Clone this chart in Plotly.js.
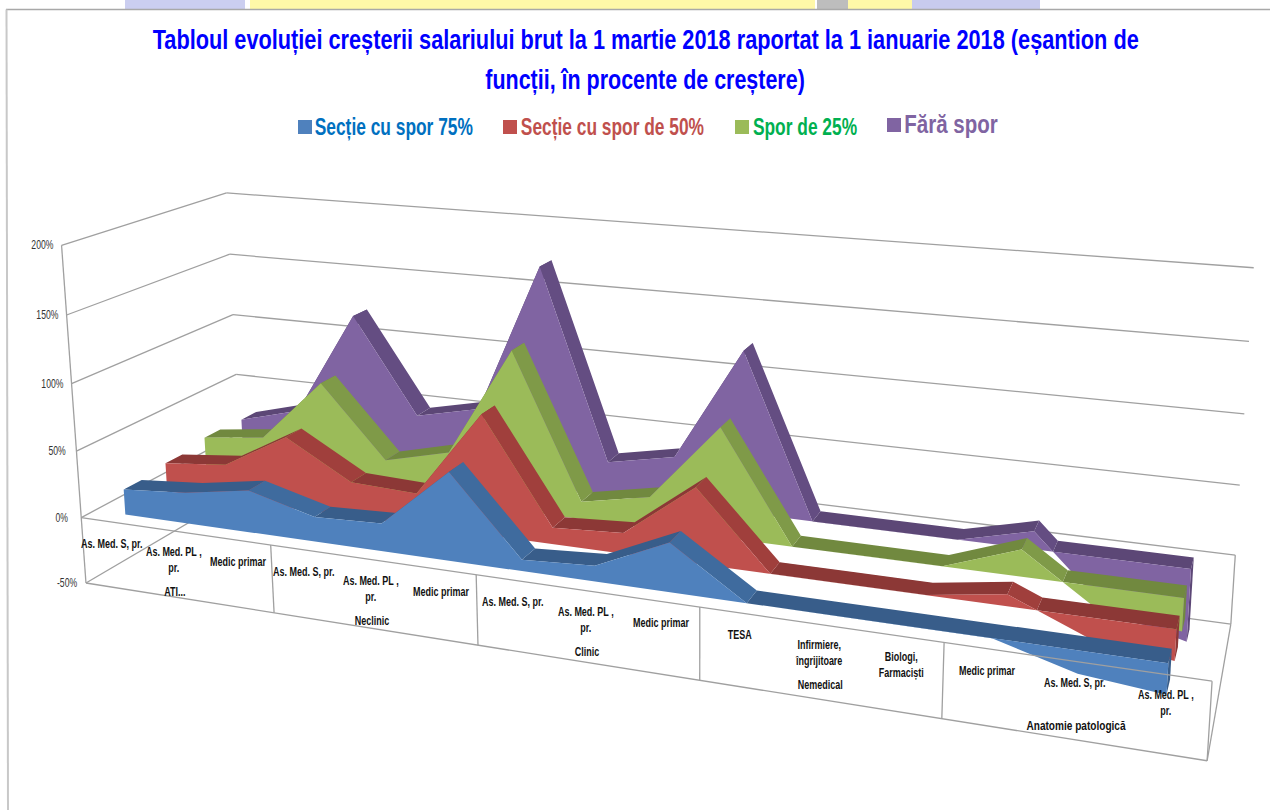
<!DOCTYPE html>
<html><head><meta charset="utf-8">
<script src="https://cdn.plot.ly/plotly-3.0.1.min.js"></script>
<style>html,body{margin:0;padding:0;background:#fff;overflow:hidden}#c{width:1270px;height:810px}</style>
</head><body><div id="c"></div>
<script>
// ---- data
const categories = ["As. Med. S, pr.","As. Med. PL ,<br>pr.","Medic primar","As. Med. S, pr.","As. Med. PL ,<br>pr.","Medic primar","As. Med. S, pr.","As. Med. PL ,<br>pr.","Medic primar","TESA","Infirmiere,<br>îngrijitoare","Biologi,<br>Farmaciști","Medic primar","As. Med. S, pr.","As. Med. PL ,<br>pr."];
const groups = ["ATI...","Neclinic","Clinic","Nemedical","Anatomie patologică"];
const seriesNames = ["Secție cu spor 75%","Secție cu spor de 50%","Spor de 25%","Fără spor"];
const spor75 = [19,23,31,18,20,63,8,11,34,0,0,0,0,-15,-20];
const spor50 = [22,27,54,26,24,88,12,15,54,0,0,0,8,-14,-21];
const spor25 = [26,32,80,26,38,120,13,23,80,0,0,0,19,-17,-23];
const faraSpor = [25,38,119,45,56,170,26,36,121,0,0,0,13,-38,-52];
const valueTicks = [-50,0,50,100,150,200];

// ---- styles
const faceColors = ["#4F81BD","#C0504D","#9BBB59","#8064A2"];
const flatColors = ["#385D8A","#8C3836","#71893F","#5C4776"];
const slopeColors = ["#3F6B9E","#A03F3C","#7F9A48","#644D82"];
const textColors = ["#0070C0","#C0504D","#00B050","#8064A2"];
const GRID = "#A0A0A0";
const FONT = '"Liberation Sans",Arial,sans-serif';

// ---- view of the 3D box: (category fraction, depth fraction, value) -> page position
const viewCorners = [
 [0,0,200,63,245],[0,0,0,81,517],[0,0,-50,85,583],
 [0,1,200,225,193],[0,1,0,240,433],[0,1,-50,243,492],
 [1,1,200,1254,268],[1,1,0,1235,555],[1,1,-50,1231,623],
 [1,0,0,1212,682],[1,0,-50,1207,761]];
function solve(A,b){const n=b.length;A=A.map((r,i)=>r.concat(b[i]));
 for(let c=0;c<n;c++){let p=c;for(let r=c+1;r<n;r++)if(Math.abs(A[r][c])>Math.abs(A[p][c]))p=r;[A[c],A[p]]=[A[p],A[c]];
  for(let r=0;r<n;r++)if(r!==c){const f=A[r][c]/A[c][c];for(let k=c;k<=n;k++)A[r][k]-=f*A[c][k];}}
 return A.map((r,i)=>r[n]/r[i]);}
const M=(function(){const R=[],Y=[];
 viewCorners.forEach(([a,d,v,X,Ys])=>{const w=v/100;
  R.push([a,d,w,1,0,0,0,0,-X*a,-X*d,-X*w]);Y.push(X);
  R.push([0,0,0,0,a,d,w,1,-Ys*a,-Ys*d,-Ys*w]);Y.push(Ys);});
 const n=11,A=[],B=[];for(let i=0;i<n;i++){A.push(new Array(n).fill(0));B.push(0);
  for(let r=0;r<R.length;r++){B[i]+=R[r][i]*Y[r];for(let j=0;j<n;j++)A[i][j]+=R[r][i]*R[r][j];}}
 return solve(A,B);})();
function view(a,d,v){const w=v/100,h=M[8]*a+M[9]*d+M[10]*w+1;
 return [(M[0]*a+M[1]*d+M[2]*w+M[3])/h,(M[4]*a+M[5]*d+M[6]*w+M[7])/h];}
const N=categories.length;
const catFrac=i=>(i+0.5)/N;

const traces=[];
function poly(polys,color){const x=[],y=[];polys.forEach(p=>{p.forEach(q=>{x.push(q[0]);y.push(q[1]);});x.push(null);y.push(null);});
 traces.push({type:'scatter',mode:'lines',x,y,fill:'toself',fillcolor:color,line:{width:0,color},hoverinfo:'skip',showlegend:false});}
function lines(segs,w){const x=[],y=[];segs.forEach(s=>{x.push(s[0][0],s[1][0],null);y.push(s[0][1],s[1][1],null);});
 traces.push({type:'scatter',mode:'lines',x,y,line:{width:w||1.3,color:GRID},hoverinfo:'skip',showlegend:false});}

// walls and floor
const wallSegs=[];
valueTicks.forEach(v=>{wallSegs.push([view(0,0,v),view(0,1,v)]);wallSegs.push([view(0,1,v),view(1,1,v)]);});
wallSegs.push([view(0,0,200),view(0,0,-50)]);
wallSegs.push([view(1,1,0),view(1,1,-50)]);
wallSegs.push([view(1,1,-50),view(1,0,-50)]);
lines(wallSegs);

// series, back to front
const SLOT=0.25,THICK=0.105,Z0=(SLOT-0.095)/2;
[3,2,1,0].forEach(k=>{
 const vals=[spor75,spor50,spor25,faraSpor][k];
 const z0=Z0+k*SLOT,z1=z0+THICK;
 const prof=[];
 vals.forEach((v,i)=>{prof.push([i,v]);
  if(i<N-1&&v*vals[i+1]<0)prof.push([i+v/(v-vals[i+1]),0]);});
 const flat=[],slope=[];
 for(let s=0;s<prof.length-1;s++){
  const [i0,a]=prof[s],[i1,b]=prof[s+1],u0=Math.max(a,0),u1=Math.max(b,0);
  const q=[view((i0+.5)/N,z0,u0),view((i1+.5)/N,z0,u1),view((i1+.5)/N,z1,u1),view((i0+.5)/N,z1,u0)];
  (u0-u1>5?slope:flat).push(q);
 }
 const last=catFrac(N-1),vl=vals[N-1];
 poly([[view(last,z0,Math.max(vl,0)),view(last,z1,Math.max(vl,0)),view(last,z1,Math.min(vl,0)),view(last,z0,Math.min(vl,0))]],flatColors[k]);
 poly(flat,flatColors[k]);
 poly(slope,slopeColors[k]);
 const front=prof.map(([i,v])=>view((i+.5)/N,z0,v));
 for(let s=prof.length-1;s>=0;s--)front.push(view((prof[s][0]+.5)/N,z0,0));
 poly([front],faceColors[k]);
});

// front lines over the areas
const frontSegs=[[view(0,0,0),view(1,0,0)],[view(0,0,-50),view(1,0,-50)],[view(1,0,0),view(1,0,-50)]];
[3,6,9,12].forEach(i=>frontSegs.push([view(i/N,0,0),view(i/N,0,-50)]));
lines(frontSegs);

// text: the reference face is a narrow one, so each text gets a horizontal squeeze after drawing
const ann=[],squeeze=[];
function t(text,x,y,size,color,sq){ann.push({text,x,y,xref:'x',yref:'y',showarrow:false,xanchor:'center',yanchor:'middle',font:{size,color,family:FONT}});squeeze.push(sq);}
t("<b>Tabloul evoluției creșterii salariului brut la 1 martie 2018 raportat la 1 ianuarie 2018 (eșantion de</b>",645,40,27,"#0000FF",0.805);
t("<b>funcții, în procente de creștere)</b>",645,80,27,"#0000FF",0.795);
const legendC=[393.5,612,804.5,951],legendS=[0.755,0.755,0.755,0.82];
seriesNames.forEach((n,k)=>{t("<b>"+n+"</b>",legendC[k],k===3?124:127,k===3?25:23,textColors[k],legendS[k]);});
traces.push({type:'scatter',mode:'markers',x:[305,510,742,894],y:[127,127,127,125],marker:{symbol:'square',size:14,color:faceColors,line:{width:0}},hoverinfo:'skip',showlegend:false});
valueTicks.forEach(v=>{const p=view(0,0,v);t(v+"%",p[0]-19,p[1],12,"#333333",0.72);});
categories.forEach((c,i)=>{const p=view(catFrac(i),0,0);t("<b>"+c+"</b>",p[0],p[1]+(c.includes("<br>")?29:22),12.5,"#111111",0.72);});
groups.forEach((g,j)=>{const p=view(catFrac(j*3+1),0,0);t("<b>"+g+"</b>",p[0]+1,p[1]+(j===4?65:61),j===4?12:12.5,"#111111",j===4?0.84:0.72);});

const shapes=[
 [125,245,"#CBCEF0"],[250,815,"#FFF8A8"],[817,848,"#BDBDBD"],[848,912,"#FFF8A8"],[912,1040,"#C8CBEE"]
].map(([a,b,c])=>({type:'rect',xref:'x',yref:'y',x0:a,x1:b,y0:0,y1:9,fillcolor:c,line:{width:0},layer:'below'}));
shapes.push({type:'line',xref:'x',yref:'y',x0:6,x1:1270,y0:9.5,y1:9.5,line:{color:'#A8A8A8',width:1.5}});
shapes.push({type:'line',xref:'x',yref:'y',x0:6.5,x1:8,y0:9.5,y1:810,line:{color:'#C8C8C8',width:2}});

Plotly.newPlot('c',traces,{
 width:1270,height:810,margin:{l:0,r:0,t:0,b:0},paper_bgcolor:'#fff',plot_bgcolor:'#fff',showlegend:false,
 xaxis:{range:[0,1270],visible:false,fixedrange:true},
 yaxis:{range:[810,0],visible:false,fixedrange:true},
 annotations:ann,shapes
},{displayModeBar:false,staticPlot:true}).then(gd=>{
 gd.querySelectorAll('g.annotation').forEach((g,i)=>{
  const el=g.querySelector('text.annotation-text');if(!el)return;
  const b=el.getBBox(),cx=b.x+b.width/2,s=squeeze[i];
  el.setAttribute('transform','translate('+cx+',0) scale('+s+',1) translate('+(-cx)+',0)');
 });
});
</script></body></html>
